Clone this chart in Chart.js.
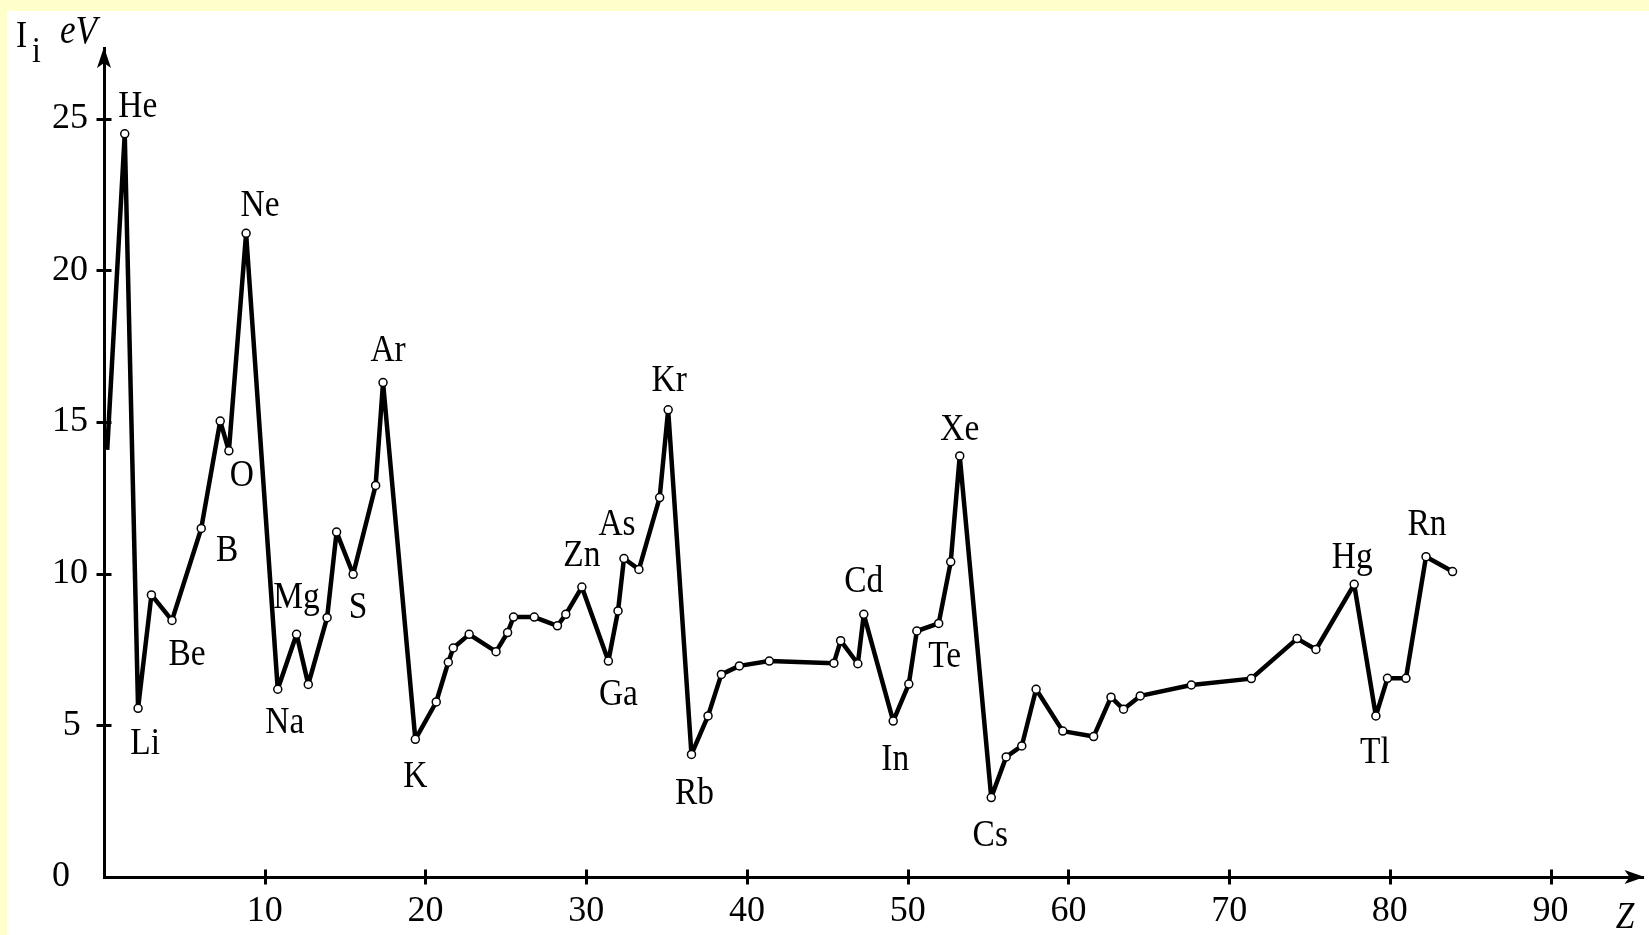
<!DOCTYPE html>
<html>
<head>
<meta charset="utf-8">
<title>First ionization energy</title>
<script src="https://cdn.jsdelivr.net/npm/chart.js@4.4.0/dist/chart.umd.min.js"></script>
<style>
  html, body { margin: 0; padding: 0; background: #ffffcc; }
  canvas { display: block; }
</style>
</head>
<body>
<canvas id="ionChart" width="1649" height="935"></canvas>
<script>
// Z as it is drawn in the picture, and the ionization energy in eV
var zValues = [0.2, 1.29, 2.12, 2.95, 4.23, 6.05, 7.23, 7.77, 8.84, 10.81,
  11.98, 12.71, 13.88, 14.47, 15.5, 16.9, 17.36, 19.37, 20.67, 21.42,
  21.73, 22.72, 24.39, 25.11, 25.48, 26.77, 28.21, 28.73, 29.73, 31.38,
  31.98, 32.35, 33.28, 34.57, 35.1, 36.55, 37.58, 38.41, 39.53, 41.39,
  45.41, 45.83, 46.9, 47.27, 49.1, 50.07, 50.57, 51.93, 52.68, 53.24,
  55.2, 56.13, 57.1, 57.99, 59.65, 61.57, 62.65, 63.43, 64.47, 67.65,
  71.38, 74.23, 75.4, 77.78, 79.13, 79.85, 81.0, 82.25, 83.9];
var energies = [14.08, 24.5, 5.56, 9.3, 8.46, 11.49, 15.03, 14.05, 21.22, 6.19,
  8.0, 6.35, 8.55, 11.37, 9.98, 12.91, 16.3, 4.54, 5.77, 7.08,
  7.55, 8.0, 7.43, 8.06, 8.57, 8.57, 8.28, 8.66, 9.56, 7.12,
  8.77, 10.5, 10.14, 12.51, 15.4, 4.04, 5.31, 6.68, 6.96, 7.12,
  7.05, 7.79, 7.03, 8.66, 5.14, 6.36, 8.11, 8.36, 10.39, 13.88,
  2.62, 3.96, 4.32, 6.19, 4.81, 4.63, 5.93, 5.53, 5.97, 6.33,
  6.54, 7.86, 7.5, 9.65, 5.31, 6.55, 6.55, 10.56, 10.07];

var xTicks = [10, 20, 30, 40, 50, 60, 70, 80, 90];
var yTicks = [0, 5, 10, 15, 20, 25];

// element names and the point each one is written next to
var elementNames = ['He', 'Li', 'Be', 'B', 'O', 'Ne', 'Na', 'Mg', 'S', 'Ar', 'K', 'Zn',
  'As', 'Ga', 'Kr', 'Rb', 'Cd', 'In', 'Te', 'Xe', 'Cs', 'Hg', 'Tl', 'Rn'];
var elementPoint = [1, 2, 4, 5, 7, 8, 9, 10, 14, 16, 17, 28,
  31, 29, 34, 35, 43, 44, 47, 49, 50, 63, 64, 67];

// where each name sits relative to its point (px)
var labelShift = {
  He: [13, -29], Li: [7, 33], Be: [15, 32], B: [26, 20], O: [13, 23], Ne: [14, -30],
  Na: [7, 31], Mg: [0, -39], S: [5, 31], Ar: [5, -34], K: [0, 35], Zn: [0, -34],
  As: [-7, -36], Ga: [10, 31], Kr: [1, -31], Rb: [3, 37], Cd: [0, -35], In: [2, 36],
  Te: [6, 31], Xe: [0, -28], Cs: [-1, 36], Hg: [-2, -29], Tl: [-1, 35], Rn: [1, -34]
};

var serif = "'Liberation Serif', 'Times New Roman', serif";

function narrowText(c, text, x, y, size, italic) {
  c.save();
  c.font = (italic ? 'italic ' : '') + size + 'px ' + serif;
  c.translate(x, y);
  c.scale(0.88, 1);
  c.fillText(text, 0, 0);
  c.restore();
}

var decorations = {
  id: 'decorations',
  beforeDraw: function(chart) {
    var c = chart.ctx;
    c.save();
    c.fillStyle = '#ffffcc';
    c.fillRect(0, 0, chart.width, chart.height);
    c.fillStyle = '#ffffff';
    c.fillRect(7, 11, chart.width - 7, chart.height - 11);
    c.restore();
  },
  afterDraw: function(chart) {
    var c = chart.ctx, a = chart.chartArea;
    var xs = chart.scales.x, ys = chart.scales.y;
    c.save();
    c.strokeStyle = '#000';
    c.fillStyle = '#000';
    c.lineWidth = 3;

    // tick marks crossing the axes
    c.beginPath();
    yTicks.forEach(function(v) {
      if (v === 0) return;
      var p = Math.round(ys.getPixelForValue(v)) + 0.5;
      c.moveTo(a.left - 7.5, p);
      c.lineTo(a.left + 7.5, p);
    });
    xTicks.forEach(function(v) {
      var p = Math.round(xs.getPixelForValue(v)) + 0.5;
      c.moveTo(p, a.bottom - 7.5);
      c.lineTo(p, a.bottom + 7.5);
    });
    c.stroke();

    // arrow heads
    c.beginPath();
    c.moveTo(a.left, a.top - 1);
    c.lineTo(a.left - 7, a.top + 20);
    c.lineTo(a.left, a.top + 15);
    c.lineTo(a.left + 7, a.top + 20);
    c.closePath();
    c.fill();
    c.beginPath();
    c.moveTo(a.right + 1, a.bottom);
    c.lineTo(a.right - 19, a.bottom - 7);
    c.lineTo(a.right - 14, a.bottom);
    c.lineTo(a.right - 19, a.bottom + 7);
    c.closePath();
    c.fill();

    // axis names
    c.textAlign = 'left';
    c.textBaseline = 'alphabetic';
    narrowText(c, 'I', 16, 47, 38, false);
    narrowText(c, 'i', 32, 62, 36, false);
    narrowText(c, 'eV', 60, 43, 40, true);
    c.textAlign = 'center';
    narrowText(c, 'Z', 1625, 928, 38, true);

    // element names
    var meta = chart.getDatasetMeta(0);
    elementNames.forEach(function(name, i) {
      var pt = meta.data[elementPoint[i]];
      var s = labelShift[name];
      narrowText(c, name, pt.x + s[0], pt.y + s[1] + 12.5, 38, false);
    });
    c.restore();
  }
};

var ctx = document.getElementById('ionChart').getContext('2d');
var chart = new Chart(ctx, {
  type: 'scatter',
  data: {
    datasets: [{
      data: zValues.map(function(z, i) { return { x: z, y: energies[i] }; }),
      showLine: true,
      borderColor: '#000',
      borderWidth: 4.5,
      borderJoinStyle: 'bevel',
      tension: 0,
      pointRadius: function(c) { return c.dataIndex === 0 ? 0 : 4; },
      pointBackgroundColor: '#fff',
      pointBorderColor: '#000',
      pointBorderWidth: 1.5,
      clip: false
    }]
  },
  options: {
    responsive: false,
    animation: false,
    layout: { padding: { top: 48, right: 1, left: 0, bottom: 0 } },
    plugins: { legend: { display: false }, tooltip: { enabled: false } },
    scales: {
      x: {
        type: 'linear',
        min: 0,
        max: 95.78,
        afterBuildTicks: function(s) { s.ticks = xTicks.map(function(v) { return { value: v }; }); },
        afterFit: function(s) { s.height = 58; },
        grid: { display: false, drawTicks: false },
        border: { display: true, color: '#000', width: 3 },
        ticks: {
          color: '#000',
          font: { family: serif, size: 36 },
          padding: 13,
          maxRotation: 0,
          autoSkip: false
        }
      },
      y: {
        min: 0,
        max: 27.33,
        afterBuildTicks: function(s) { s.ticks = yTicks.map(function(v) { return { value: v }; }); },
        afterFit: function(s) { s.width = 104; },
        grid: { display: false, drawTicks: false },
        border: { display: true, color: '#000', width: 3 },
        ticks: {
          color: '#000',
          font: { family: serif, size: 36 },
          padding: 16,
          callback: function(v) {
            if (v === 0) return '0\u2002';
            if (v === 5) return '5\u2009';
            return String(v);
          }
        }
      }
    }
  },
  plugins: [decorations]
});
</script>
</body>
</html>
